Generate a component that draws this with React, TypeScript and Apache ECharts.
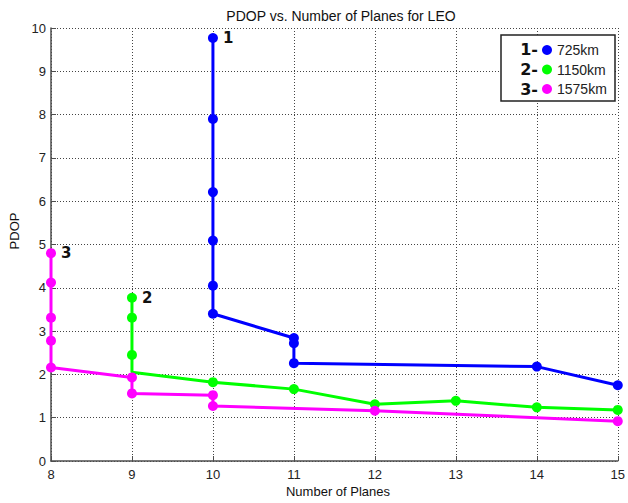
import React, { useEffect, useRef } from "react";
import * as echarts from "echarts";

// PDOP against the number of orbital planes for three LEO altitudes
const altitudes = ["725km", "1150km", "1575km"];
const curveTags = ["1", "2", "3"];
const colors = ["#0000ff", "#00ff00", "#ff00ff"];

const planesBlue = [10, 10, 10, 10, 10, 10, 11, 11, 11, 14, 15];
const pdopBlue = [9.77, 7.9, 6.21, 5.09, 4.05, 3.4, 2.84, 2.72, 2.26, 2.18, 1.75];

const planesGreen = [9, 9, 9, 9, 10, 11, 12, 13, 14, 15];
const pdopGreen = [3.77, 3.31, 2.45, 2.05, 1.82, 1.66, 1.31, 1.39, 1.24, 1.18];
// vertices drawn without a marker (index into the series)
const hiddenGreen = [3];

const planesMagenta = [8, 8, 8, 8, 8, 9, 9, 10, 10, 12, 15];
const pdopMagenta = [4.8, 4.12, 3.31, 2.78, 2.16, 1.93, 1.56, 1.52, 1.27, 1.16, 0.92];

const xTicks = [8, 9, 10, 11, 12, 13, 14, 15];
const yTicks = [0, 1, 2, 3, 4, 5, 6, 7, 8, 9, 10];

const FONT = "'Liberation Sans', Arial, sans-serif";

function buildData(xs: number[], ys: number[], tag: string, hidden: number[] = []) {
  return xs.map((x, i) => {
    const item: any = { value: [x, ys[i]] };
    if (hidden.includes(i)) item.symbol = "none";
    if (i === 0) {
      item.label = {
        show: true,
        formatter: tag,
        position: "right",
        distance: 5,
        color: "#111",
        fontSize: 15,
        fontWeight: "bold",
        fontFamily: "'DejaVu Sans', sans-serif",
      };
    }
    return item;
  });
}

export default function App() {
  const ref = useRef<HTMLDivElement>(null);

  useEffect(() => {
    if (!ref.current) return;
    const chart = echarts.init(ref.current, undefined, { renderer: "svg" });

    const sets = [
      buildData(planesBlue, pdopBlue, curveTags[0]),
      buildData(planesGreen, pdopGreen, curveTags[1], hiddenGreen),
      buildData(planesMagenta, pdopMagenta, curveTags[2]),
    ];

    const axisLine = { show: true, onZero: false, lineStyle: { color: "#4d4d4d", width: 1.5 } };
    const axisTick = { show: true, inside: true, length: 5, lineStyle: { color: "#4d4d4d", width: 1 } };
    const splitLine = { show: true, lineStyle: { color: "#444", width: 1, type: [1, 2] as any } };
    const axisLabel = { color: "#222", fontSize: 13, fontFamily: FONT };

    chart.setOption({
      animation: false,
      backgroundColor: "#fff",
      title: {
        text: "PDOP vs. Number of Planes for LEO",
        left: 336,
        top: 4,
        textAlign: "center",
        textStyle: { fontSize: 14, fontWeight: "normal", color: "#111", fontFamily: FONT },
      },
      grid: { left: 51, right: 6, top: 28, bottom: 42 },
      xAxis: {
        type: "value",
        min: xTicks[0],
        max: xTicks[xTicks.length - 1],
        interval: 1,
        axisLine,
        axisTick,
        splitLine,
        axisLabel: { ...axisLabel, margin: 7 },
      },
      yAxis: {
        type: "value",
        min: yTicks[0],
        max: yTicks[yTicks.length - 1],
        interval: 1,
        axisLine,
        axisTick,
        splitLine,
        axisLabel: { ...axisLabel, margin: 5 },
      },
      legend: {
        orient: "vertical",
        left: 542,
        top: 43,
        padding: 0,
        itemWidth: 10,
        itemHeight: 10,
        itemGap: 5.5,
        icon: "circle",
        data: altitudes,
        textStyle: { color: "#222", fontSize: 14, fontFamily: FONT },
      },
      graphic: [
        {
          type: "rect",
          z: 3,
          shape: { x: 501, y: 35, width: 114, height: 66 },
          style: { fill: "#fff", stroke: "#222", lineWidth: 1.5 },
        },
        ...curveTags.map((t, i) => ({
          type: "text",
          z: 5,
          x: 538,
          y: 49 + i * 20,
          style: {
            text: t + "-",
            align: "right",
            verticalAlign: "middle",
            fill: "#111",
            fontSize: 16,
            fontWeight: "bold",
            fontFamily: "'DejaVu Sans', sans-serif",
          },
        })),
        {
          type: "text",
          x: 14,
          y: 231,
          rotation: Math.PI / 2,
          style: {
            text: "PDOP",
            align: "center",
            verticalAlign: "middle",
            fill: "#111",
            fontSize: 13,
            fontFamily: FONT,
          },
        },
        {
          type: "text",
          x: 338,
          y: 491,
          style: {
            text: "Number of Planes",
            align: "center",
            verticalAlign: "middle",
            fill: "#111",
            fontSize: 13,
            fontFamily: FONT,
          },
        },
      ],
      series: altitudes.map((name, i) => ({
        name,
        type: "line",
        data: sets[i],
        color: colors[i],
        symbol: "circle",
        symbolSize: 10,
        lineStyle: { width: 3, color: colors[i] },
        itemStyle: { color: colors[i] },
        z: 2 + i,
      })),
    });

    return () => chart.dispose();
  }, []);

  return (
    <div
      ref={ref}
      style={{ position: "absolute", left: 0, top: 0, width: 628, height: 503 }}
    />
  );
}
